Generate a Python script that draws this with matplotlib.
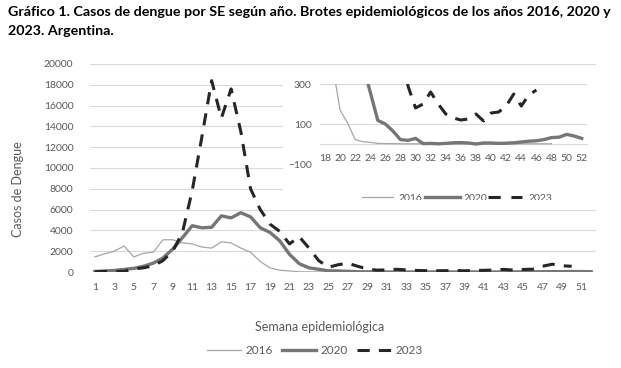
import matplotlib
matplotlib.use("Agg")
import matplotlib.pyplot as plt
import numpy as np

plt.rcParams['font.family'] = ['Lato', 'DejaVu Sans']

# ---------------- data ----------------
weeks_2016 = list(range(1, 49))
cases_2016 = [1450, 1750, 2000, 2500, 1450, 1800, 1900, 3100, 3100, 2800,
              2700, 2400, 2300, 2900, 2800, 2300, 1900, 1000, 400, 170,
              105, 22, 12, 8, 3, 2, 2, 1, 1, 1,
              1, 1, 1, 1, 1, 1, 1, 0, 1, 1,
              1, 1, 1, 1, 1, 1, 1, 1]

weeks_2020 = list(range(1, 53))
cases_2020 = [50, 100, 150, 250, 350, 550, 850, 1350, 2200, 3300,
              4450, 4250, 4300, 5400, 5200, 5700, 5300, 4250, 3800, 3000,
              1700, 800, 400, 260, 118, 100, 65, 22, 18, 28,
              2, 3, 1, 3, 6, 7, 5, 0, 5, 5,
              3, 4, 6, 10, 14, 16, 22, 32, 34, 48,
              40, 28]

weeks_2023 = list(range(1, 51))
cases_2023 = [30, 50, 50, 60, 300, 400, 600, 1100, 2000, 3800,
              7800, 13000, 18400, 14800, 17600, 13500, 8000, 6000, 4600, 3900,
              2700, 3400, 2300, 1100, 450, 700, 850, 550, 290, 180,
              200, 260, 200, 150, 130, 120, 125, 150, 115, 155,
              160, 190, 250, 190, 245, 270, 550, 750, 600, 550]

main_xticks = list(range(1, 53, 2))
main_yticks = list(range(0, 20001, 2000))
inset_xticks = list(range(18, 53, 2))
inset_yticks = [-100, 100, 300]

title_line1 = "Gráfico 1. Casos de dengue por SE según año. Brotes epidemiológicos de los años 2016, 2020 y"
title_line2 = "2023. Argentina."
series_labels = ["2016", "2020", "2023"]

# ---------------- style ----------------
C16 = "#A6A6A6"
C20 = "#767676"
C23 = "#262626"
GRID = "#D9D9D9"
TXT = "#595959"
W, H = 621, 368

fig = plt.figure(figsize=(W / 100, H / 100), dpi=100)

def fx(px):
    return px / W

def fy(py):
    return 1 - py / H

# main axes
ml, mr, mt, mb = 90, 596, 64, 272
ax = fig.add_axes([fx(ml), fy(mb), fx(mr - ml), (mb - mt) / H])
ax.plot(weeks_2016, cases_2016, color=C16, lw=0.9, solid_joinstyle='round', zorder=3)
ax.plot(weeks_2020, cases_2020, color=C20, lw=2.4, solid_joinstyle='round', zorder=4)
ax.plot(weeks_2023, cases_2023, color=C23, lw=2.2, dashes=(4, 3), dash_capstyle='butt', zorder=5)
ax.set_xlim(0.5, 52.5)
ax.set_ylim(0, 20000)
ax.set_xticks(main_xticks)
ax.set_yticks(main_yticks)
ax.grid(axis='y', color=GRID, lw=0.8)
ax.set_axisbelow(True)
for s in ax.spines.values():
    s.set_visible(False)
ax.tick_params(length=0, colors=TXT, labelsize=7.5)
ax.tick_params(axis='y', pad=12)
ax.tick_params(axis='x', pad=8)
ax.set_ylabel("Casos de Dengue", fontsize=9, color=TXT)
ax.yaxis.set_label_coords((24 - ml) / (mr - ml), (mb - 189) / (mb - mt))
fig.text(fx(320), fy(327), "Semana epidemiológica", fontsize=9, color=TXT,
         ha='center', va='center')

from matplotlib.lines import Line2D
handles = [Line2D([], [], color=C16, lw=0.9),
           Line2D([], [], color=C20, lw=2.4),
           Line2D([], [], color=C23, lw=2.2, dashes=(4, 3), dash_capstyle='butt')]
fig.legend(handles, series_labels, loc='center', bbox_to_anchor=(fx(315), fy(351)),
           ncol=3, frameon=False, fontsize=8.5, handlelength=2.9, handletextpad=0.35,
           columnspacing=0.8, labelcolor=TXT)

# inset background (white patch over the main chart)
bl, br, bt, bb = 283, 600, 75, 200
axbg = fig.add_axes([fx(bl), fy(bb), fx(br - bl), (bb - bt) / H], zorder=10)
axbg.set_xlim(bl, br)
axbg.set_ylim(bb, bt)
axbg.set_facecolor('white')
axbg.set_xticks([])
axbg.set_yticks([])
for s in axbg.spines.values():
    s.set_visible(False)

# inset legend (cut at the bottom edge as in the reference)
ly = 197
leg_items = [(362, 393, C16, 0.9, None, 398),
             (425, 460, C20, 2.4, None, 463),
             (488, 522, C23, 2.2, (4, 3.5), 528)]
for (x0, x1, c, lw, d, tx), lab in zip(leg_items, series_labels):
    if d is None:
        axbg.plot([x0, x1], [ly, ly], color=c, lw=lw)
    else:
        axbg.plot([x0, x1], [ly, ly], color=c, lw=lw, dashes=d, dash_capstyle='butt')
    t = axbg.text(tx, ly + 1.5, lab, fontsize=7.5, color=TXT, ha='left', va='center')
    t.set_clip_path(axbg.patch)
    t.set_clip_on(True)

# inset plot axes
il, ir, it, ib = 320, 587, 84, 164
axi = fig.add_axes([fx(il), fy(ib), fx(ir - il), (ib - it) / H], zorder=11)
axi.set_facecolor('none')
axi.plot(weeks_2016, cases_2016, color=C16, lw=0.9, solid_joinstyle='round')
axi.plot(weeks_2020, cases_2020, color=C20, lw=2.4, solid_joinstyle='round')
axi.plot(weeks_2023[:46], cases_2023[:46], color=C23, lw=2.2, dashes=(4, 3), dash_capstyle='butt')
axi.set_xlim(17.35, 52.7)
axi.set_ylim(-100, 300)
axi.set_xticks(inset_xticks)
axi.set_yticks(inset_yticks)
for y in [100, 300]:
    axi.axhline(y, color=GRID, lw=0.8, zorder=0)
for k, s in axi.spines.items():
    s.set_visible(False)
axi.spines['bottom'].set_visible(True)
axi.spines['bottom'].set_position(('data', 0))
axi.spines['bottom'].set_color(GRID)
axi.spines['bottom'].set_linewidth(0.8)
axi.spines['bottom'].set_zorder(0)
axi.tick_params(length=0, colors=TXT, labelsize=7.5)
axi.tick_params(axis='x', pad=7)
axi.tick_params(axis='y', pad=6)

# title, fitted to the reference line width
t1 = fig.text(fx(8), fy(12), title_line1, fontsize=10, fontweight='bold',
              color='black', ha='left', va='center')
fig.canvas.draw()
wpx = t1.get_window_extent().width
fs = 10 * 604 / wpx
t1.set_fontsize(fs)
fig.text(fx(8), fy(31), title_line2, fontsize=fs, fontweight='bold',
         color='black', ha='left', va='center')

fig.savefig("out.png", dpi=100, facecolor='white')
